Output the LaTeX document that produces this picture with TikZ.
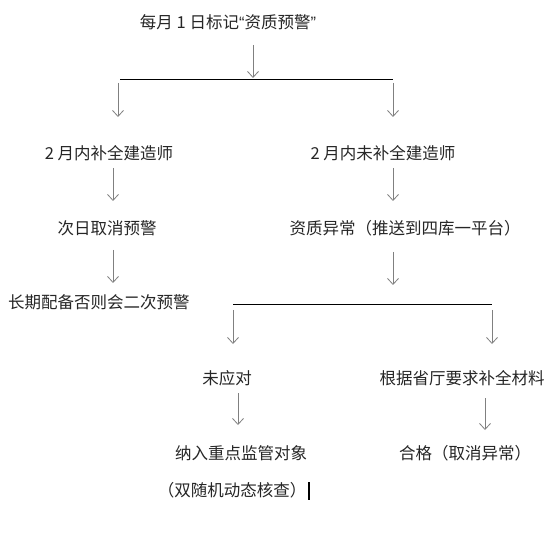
\documentclass[tikz,border=0pt]{standalone}
\usepackage{fontspec}
\newfontfamily\cjk{Noto Sans CJK SC}
\newfontfamily\latq{Liberation Sans}
\usetikzlibrary{arrows.meta}
\begin{document}
\begin{tikzpicture}[x=1pt,y=-1pt,
  lbl/.style={font=\cjk\fontsize{16.5}{18}\selectfont, text=black!85, inner sep=0pt, anchor=center},
  arr/.style={draw=black!50, line width=0.8pt, -{Straight Barb[length=6pt,width=11pt]}},
  bar/.style={draw=black, line width=0.8pt}]
\useasboundingbox[fill=white] (0,0) rectangle (560,540);
% texts
\node[lbl] (t)  at (228,22)  {每月 1 日标记{\latq “}资质预警{\latq ”}};
\node[lbl] (l1) at (109,153) {2 月内补全建造师};
\node[lbl] (r1) at (383,153) {2 月内未补全建造师};
\node[lbl] (l2) at (107,228) {次日取消预警};
\node[lbl] (r2) at (405,228) {资质异常（推送到四库一平台）};
\node[lbl] (l3) at (99,302)  {长期配备否则会二次预警};
\node[lbl] (a1) at (227,378) {未应对};
\node[lbl] (b1) at (462,378) {根据省厅要求补全材料};
\node[lbl] (a2) at (241,453) {纳入重点监管对象};
\node[lbl] (b2) at (465,453) {合格（取消异常）};
\node[lbl] (a3) at (232,490) {（双随机动态核查）};
% junction lines
\coordinate (h1l) at (120,79);
\coordinate (h1r) at (393,79);
\coordinate (h2l) at (233,304);
\coordinate (h2r) at (492,304);
\draw[bar] (h1l) -- (h1r);
\draw[bar] (h2l) -- (h2r);
% arrow ends
\coordinate (s0) at (253,45);  \coordinate (e0) at (253,78);
\coordinate (s1) at (118,83);  \coordinate (e1) at (118,117);
\coordinate (s2) at (393,83);  \coordinate (e2) at (393,117);
\coordinate (s3) at (113,168); \coordinate (e3) at (113,201);
\coordinate (s4) at (393,168); \coordinate (e4) at (393,201);
\coordinate (s5) at (113,250); \coordinate (e5) at (113,283);
\coordinate (s6) at (393,252); \coordinate (e6) at (393,285);
\coordinate (s7) at (233,310); \coordinate (e7) at (233,344);
\coordinate (s8) at (492,310); \coordinate (e8) at (492,344);
\coordinate (s9) at (238,393); \coordinate (e9) at (238,425);
\coordinate (s10) at (485,398); \coordinate (e10) at (485,430);
\foreach \i in {0,...,10} \draw[arr] (s\i) -- (e\i);
% text cursor bar
\coordinate (cb1) at (309,482);
\coordinate (cb2) at (309,500);
\draw[draw=black, line width=2pt] (cb1) -- (cb2);
\end{tikzpicture}
\end{document}
